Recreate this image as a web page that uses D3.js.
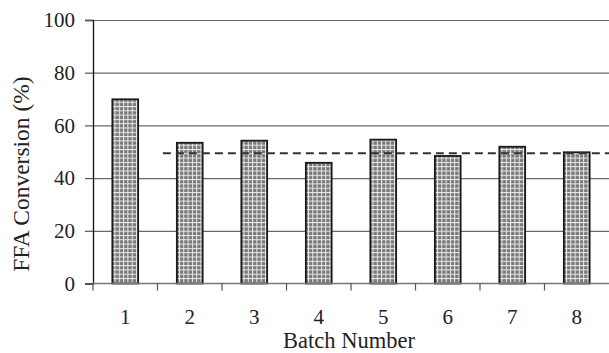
<!DOCTYPE html>
<html><head>
<meta charset="utf-8">
<script src="https://d3js.org/d3.v7.min.js"></script>
<style>
  body { margin: 0; background: #fff; }
  text { font-family: "Liberation Serif", "Times New Roman", serif; fill: #222; }
  .gridlines line { stroke: #6a6a6a; stroke-width: 1.2px; }
  .gridlines .domain { stroke: none; }
</style>
</head>
<body>
<svg id="chart" width="609" height="353"></svg>
<script>
  // data
  const batches = ["1", "2", "3", "4", "5", "6", "7", "8"];
  const conversion = [69.9, 53.4, 54.2, 45.8, 54.6, 48.4, 51.9, 49.8];
  const meanConversion = 49.4;
  const yTicks = [0, 20, 40, 60, 80, 100];

  const serif = "'Liberation Serif', 'Times New Roman', serif";

  const svg = d3.select("svg#chart");
  const margins = {top: 20, right: 0, bottom: 69.5, left: 93};
  const width = +svg.attr("width");
  const height = +svg.attr("height");
  const chartWidth = width - margins.left - margins.right;
  const chartHeight = height - margins.top - margins.bottom;

  // dotted grey fill like the original
  const pat = svg.append("defs").append("pattern")
    .attr("id", "dots").attr("patternUnits", "userSpaceOnUse")
    .attr("width", 4.3).attr("height", 4.3);
  pat.append("rect").attr("width", 4.3).attr("height", 4.3).attr("fill", "#ececec");
  pat.append("rect").attr("x", 1).attr("y", 1).attr("width", 3.3).attr("height", 3.3).attr("fill", "#787878");

  const chart = svg.append("g")
    .attr("transform", "translate(" + margins.left + "," + margins.top + ")");

  const x = d3.scaleBand().domain(batches).range([0, chartWidth])
    .paddingInner(0.6).paddingOuter(0.3);
  const y = d3.scaleLinear().domain([0, 100]).range([chartHeight, 0]);

  // gridlines
  chart.append("g").attr("class", "gridlines")
    .call(d3.axisLeft(y).tickValues(yTicks.slice(1)).tickSize(-chartWidth).tickFormat(""));

  // bars
  chart.selectAll("rect.bar")
    .data(conversion)
    .join("rect")
    .attr("class", "bar")
    .attr("x", (d, i) => x(batches[i]))
    .attr("y", d => y(d))
    .attr("width", x.bandwidth())
    .attr("height", d => chartHeight - y(d))
    .attr("fill", "url(#dots)")
    .attr("stroke", "#1a1a1a")
    .attr("stroke-width", 1.8);

  // mean line
  chart.append("line")
    .attr("x1", x("2") - 14)
    .attr("x2", chartWidth)
    .attr("y1", y(meanConversion))
    .attr("y2", y(meanConversion))
    .attr("stroke", "#333")
    .attr("stroke-width", 2)
    .attr("stroke-dasharray", "8,5");

  // y axis
  const leftAxis = d3.axisLeft(y).tickValues(yTicks).tickSize(8).tickPadding(10);
  const ya = chart.append("g").call(leftAxis)
    .attr("font-family", serif).attr("font-size", 21);
  ya.select(".domain").attr("stroke", "#111").attr("stroke-width", 1.3);
  ya.selectAll(".tick line").attr("stroke", "#555").attr("stroke-width", 1.2);
  ya.selectAll(".tick text").attr("fill", "#222");

  // x axis: ticks sit on band boundaries
  const xa = chart.append("g").attr("transform", "translate(0," + chartHeight + ")");
  xa.append("line").attr("x1", 0).attr("x2", chartWidth)
    .attr("stroke", "#777").attr("stroke-width", 1.4);
  xa.selectAll("line.tk")
    .data(batches)
    .join("line")
    .attr("class", "tk")
    .attr("x1", d => x(d) - x.step() * x.paddingOuter())
    .attr("x2", d => x(d) - x.step() * x.paddingOuter())
    .attr("y1", 0).attr("y2", 7)
    .attr("stroke", "#555").attr("stroke-width", 1.2);
  xa.selectAll("text")
    .data(batches)
    .join("text")
    .attr("x", d => x(d) + x.bandwidth() / 2)
    .attr("y", 40.5)
    .attr("text-anchor", "middle")
    .style("font-size", "21px")
    .text(d => d);

  // axis titles
  svg.append("text")
    .attr("x", margins.left + chartWidth / 2 - 2)
    .attr("y", 348)
    .attr("text-anchor", "middle")
    .style("font-size", "22.5px")
    .text("Batch Number");

  svg.append("text")
    .attr("transform", "translate(29," + 174 + ") rotate(-90)")
    .attr("text-anchor", "middle")
    .style("font-size", "23.5px")
    .text("FFA Conversion (%)");
</script>
</body>
</html>
